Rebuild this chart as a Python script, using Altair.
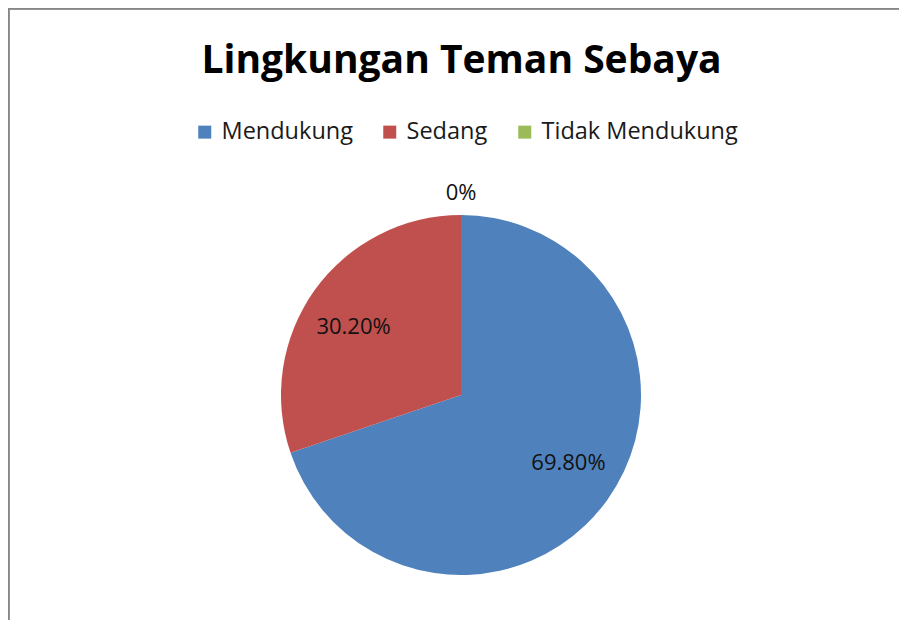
import altair as alt
import pandas as pd

categories = ["Mendukung", "Sedang", "Tidak Mendukung"]
values = [69.8, 30.2, 0.0]
labels = ["69.80%", "30.20%", "0%"]
colors = ["#4F81BD", "#C0504D", "#9BBB59"]

df = pd.DataFrame({"kategori": categories, "nilai": values, "label": labels,
                   "idx": list(range(len(categories)))})

W, H = 891, 612
CX, CY = 453, 387
FONT = "Open Sans"
BORDER = "#868686"

base = alt.Chart(df).encode(
    theta=alt.Theta("nilai:Q", stack=True),
    order=alt.Order("idx:Q"),
    x=alt.value(CX),
    y=alt.value(CY),
)

pie = base.mark_arc(radius=180).encode(
    color=alt.Color(
        "kategori:N",
        scale=alt.Scale(domain=categories, range=colors),
        sort=categories,
        legend=alt.Legend(
            title=None, orient="none", direction="horizontal",
            legendX=185, legendY=112, symbolType="square", symbolSize=169,
            symbolStrokeWidth=0, labelFont=FONT, labelFontSize=23.5,
            labelColor="#1a1a1a", columnPadding=25, labelOffset=5,
            labelLimit=400, symbolOpacity=1,
        ),
    )
)

inner = base.transform_filter("datum.nilai > 0").mark_text(
    radius=127, thetaOffset=-0.06, font=FONT, fontSize=22, color="#111111"
).encode(text="label:N")

outer = base.transform_filter("datum.nilai == 0").mark_text(
    radius=202, font=FONT, fontSize=22, color="#111111"
).encode(text="label:N")

top_line = alt.Chart(df).mark_rule(color=BORDER, strokeWidth=3).encode(
    x=alt.value(0), x2=alt.value(W), y=alt.value(0)
)
left_line = alt.Chart(df).mark_rule(color=BORDER, strokeWidth=3).encode(
    x=alt.value(0), y=alt.value(0), y2=alt.value(H)
)

chart = (
    alt.layer(pie, inner, outer, top_line, left_line)
    .properties(
        width=W, height=H,
        autosize=alt.AutoSizeParams(type="none"),
        padding=0,
        title=alt.TitleParams(
            "Lingkungan Teman Sebaya", font=FONT, fontSize=39, fontWeight="bold",
            color="#000000", anchor="start", orient="top", offset=0,
            baseline="alphabetic", dy=105, dx=195,
        ),
    )
    .configure(background="#ffffff", view=alt.ViewConfig(stroke="transparent", strokeWidth=0))
)

chart.save("out.html", embed_options={"renderer": "svg", "actions": False})
